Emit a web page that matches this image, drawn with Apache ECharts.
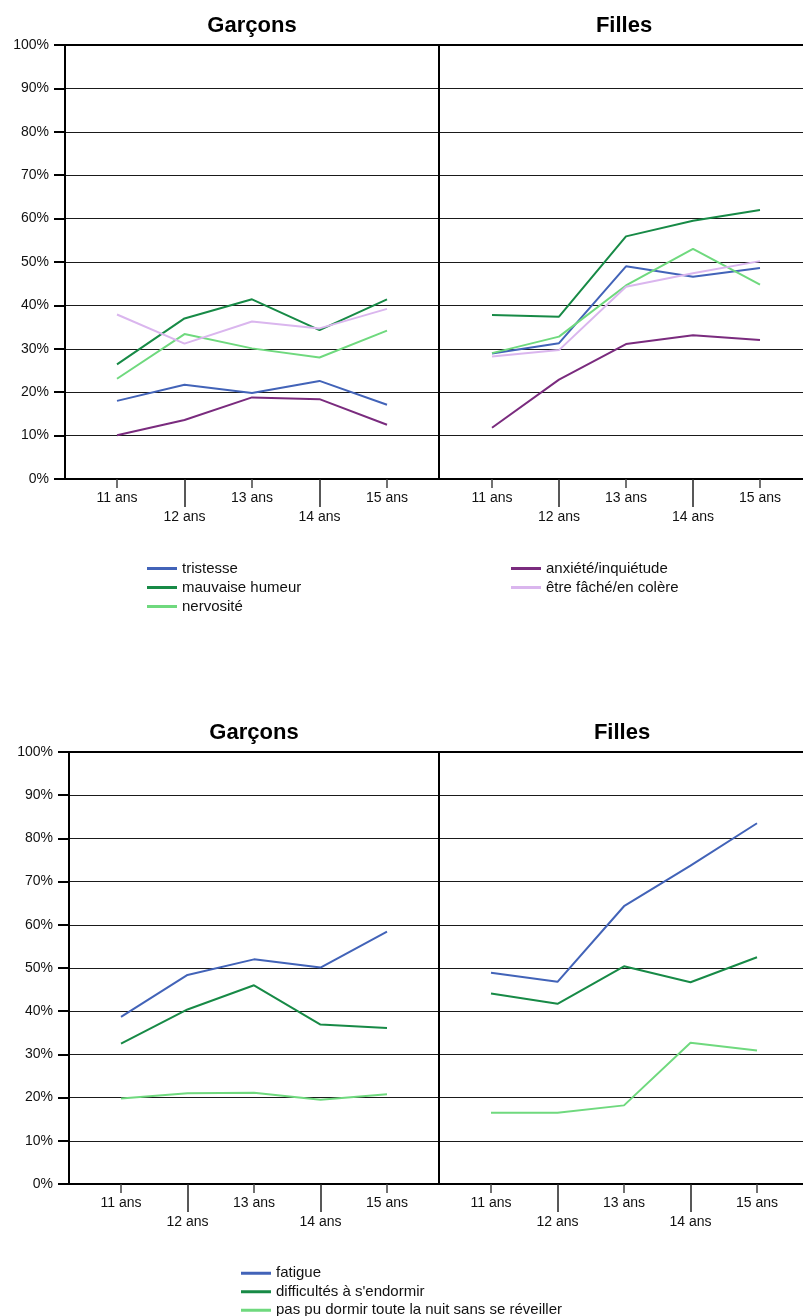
<!DOCTYPE html>
<html>
<head>
<meta charset="utf-8">
<script src="https://cdn.jsdelivr.net/npm/echarts@6/dist/echarts.min.js"></script>
<style>
html,body{margin:0;padding:0;background:#fff;}
#chart{width:803px;height:1316px;}
</style>
</head>
<body>
<div id="chart"></div>
<script>
// ---- Data ----
const categories = ['11 ans', '12 ans', '13 ans', '14 ans', '15 ans'];
const panelTitles = ['Garçons', 'Filles'];

// Panel 1 (emotional symptoms)
const garconsTristesse      = [18.0, 21.7, 19.8, 22.6, 17.1];
const garconsMauvaiseHumeur = [26.4, 37.0, 41.4, 34.3, 41.4];
const garconsNervosite      = [23.1, 33.4, 30.1, 28.0, 34.2];
const garconsAnxiete        = [10.1, 13.6, 18.8, 18.4, 12.5];
const garconsFache          = [37.9, 31.2, 36.3, 34.7, 39.2];

const fillesTristesse       = [28.9, 31.3, 49.0, 46.6, 48.6];
const fillesMauvaiseHumeur  = [37.8, 37.4, 55.9, 59.5, 62.0];
const fillesNervosite       = [29.0, 32.8, 44.6, 53.0, 44.8];
const fillesAnxiete         = [11.8, 22.9, 31.1, 33.1, 32.0];
const fillesFache           = [28.2, 29.7, 44.3, 47.4, 50.2];

// Panel 2 (sleep)
const garconsFatigue  = [38.7, 48.4, 52.0, 50.1, 58.4];
const garconsEndormir = [32.5, 40.4, 46.0, 36.9, 36.1];
const garconsNuit     = [19.8, 21.0, 21.1, 19.5, 20.8];

const fillesFatigue   = [48.9, 46.8, 64.3, 73.7, 83.5];
const fillesEndormir  = [44.1, 41.7, 50.4, 46.7, 52.5];
const fillesNuit      = [16.5, 16.5, 18.2, 32.7, 30.9];

const namesPanel1 = ['tristesse', 'mauvaise humeur', 'nervosité', 'anxiété/inquiétude', 'être fâché/en colère'];
const namesPanel2 = ['fatigue', "difficultés à s'endormir", 'pas pu dormir toute la nuit sans se réveiller'];

// ---- Styling ----
const C_BLUE = '#4263B8', C_DGREEN = '#178A46', C_LGREEN = '#6FD97E', C_PURPLE = '#7A2B7E', C_LAV = '#DAB6EE';
const colorsPanel1 = [C_BLUE, C_DGREEN, C_LGREEN, C_PURPLE, C_LAV];
const colorsPanel2 = [C_BLUE, C_DGREEN, C_LGREEN];
const FONT = '"Liberation Sans", Arial, sans-serif';

// layout: [outerLeft, outerWidth, innerLeft, innerWidth, top, height]
const layouts = [
  [65, 374, 117, 270, 45, 434],
  [439, 364, 492, 268, 45, 434],
  [69, 370, 121, 266, 752, 432],
  [439, 364, 491, 266, 752, 432]
];

const grids = [], xAxes = [], yAxes = [];
const innerXIdx = [], innerYIdx = [];
layouts.forEach((L, k) => {
  const [ol, ow, il, iw, top, h] = L;
  const showLabels = (k % 2 === 0);
  // outer frame grid
  const go = grids.length;
  grids.push({left: ol, top: top, width: ow, height: h});
  const frameLine = {show: true, lineStyle: {color: '#000', width: 2}};
  xAxes.push({gridIndex: go, type: 'value', min: 0, max: 1, position: 'bottom',
    axisLine: frameLine, axisTick: {show: false}, axisLabel: {show: false}, splitLine: {show: false}});
  xAxes.push({gridIndex: go, type: 'value', min: 0, max: 1, position: 'top',
    axisLine: frameLine, axisTick: {show: false}, axisLabel: {show: false}, splitLine: {show: false}});
  yAxes.push({
    gridIndex: go, type: 'value', min: 0, max: 100, interval: 10, position: 'left',
    axisLine: frameLine,
    axisTick: {show: showLabels, length: 11, lineStyle: {color: '#000', width: 2}},
    axisLabel: {show: showLabels, formatter: '{value}%', fontSize: 14, color: '#111', fontFamily: FONT, margin: 16},
    splitLine: {show: true, lineStyle: {color: '#1a1a1a', width: 1}}
  });
  // inner data grid
  const gi = grids.length;
  grids.push({left: il, top: top, width: iw, height: h});
  innerXIdx.push(xAxes.length);
  xAxes.push({
    gridIndex: gi, type: 'category', data: categories, boundaryGap: false, position: 'bottom',
    axisLine: {show: false},
    axisTick: {show: true, length: 9, interval: (i) => i % 2 === 0, lineStyle: {color: '#444', width: 1.5}},
    axisLabel: {show: true, interval: 0, margin: 10, lineHeight: 19, fontSize: 14, color: '#111', fontFamily: FONT,
      formatter: (v, i) => (i % 2 === 1 ? '\n' + v : v)},
    splitLine: {show: false}
  });
  xAxes.push({
    gridIndex: gi, type: 'category', data: categories, boundaryGap: false, position: 'bottom',
    axisLine: {show: false},
    axisTick: {show: true, length: 28, interval: (i) => i % 2 === 1, lineStyle: {color: '#222', width: 1.5}},
    axisLabel: {show: false},
    splitLine: {show: false}
  });
  innerYIdx.push(yAxes.length);
  yAxes.push({gridIndex: gi, type: 'value', min: 0, max: 100, interval: 10, show: false, splitLine: {show: false}});
});

function mkSeries(name, data, color, k) {
  return {
    name: name, type: 'line', data: data, xAxisIndex: innerXIdx[k], yAxisIndex: innerYIdx[k],
    symbol: 'none', color: color, lineStyle: {color: color, width: 2}, z: 5, animation: false
  };
}

const series = [];
const g1 = [garconsTristesse, garconsMauvaiseHumeur, garconsNervosite, garconsAnxiete, garconsFache];
const f1 = [fillesTristesse, fillesMauvaiseHumeur, fillesNervosite, fillesAnxiete, fillesFache];
const g2 = [garconsFatigue, garconsEndormir, garconsNuit];
const f2 = [fillesFatigue, fillesEndormir, fillesNuit];
namesPanel1.forEach((n, i) => { series.push(mkSeries(n, g1[i], colorsPanel1[i], 0)); });
namesPanel1.forEach((n, i) => { series.push(mkSeries(n, f1[i], colorsPanel1[i], 1)); });
namesPanel2.forEach((n, i) => { series.push(mkSeries(n, g2[i], colorsPanel2[i], 2)); });
namesPanel2.forEach((n, i) => { series.push(mkSeries(n, f2[i], colorsPanel2[i], 3)); });

const legendBase = {
  orient: 'vertical', icon: 'rect', itemWidth: 30, itemHeight: 3, itemGap: 0, padding: 0,
  textStyle: {fontSize: 15, color: '#111', fontFamily: FONT, lineHeight: 19}, selectedMode: false
};

const titleStyle = {fontSize: 22, fontWeight: 'bold', fontFamily: FONT, fill: '#000', textAlign: 'center', textVerticalAlign: 'middle'};
const titlePos = [[252, 26], [624, 26], [254, 733], [622, 733]];

const option = {
  backgroundColor: '#fff',
  animation: false,
  grid: grids,
  xAxis: xAxes,
  yAxis: yAxes,
  legend: [
    Object.assign({}, legendBase, {left: 147, top: 559, data: namesPanel1.slice(0, 3)}),
    Object.assign({}, legendBase, {left: 511, top: 559, data: namesPanel1.slice(3)}),
    Object.assign({}, legendBase, {left: 241, top: 1264, orient: 'horizontal', width: 60, data: namesPanel2,
      textStyle: Object.assign({}, legendBase.textStyle, {lineHeight: 18.5})})
  ],
  graphic: titlePos.map((p, i) => ({
    type: 'text', x: p[0], y: p[1],
    style: Object.assign({text: panelTitles[i % 2]}, titleStyle)
  })),
  series: series
};

const chart = echarts.init(document.getElementById('chart'), null, {renderer: 'canvas'});
chart.setOption(option);
</script>
</body>
</html>
